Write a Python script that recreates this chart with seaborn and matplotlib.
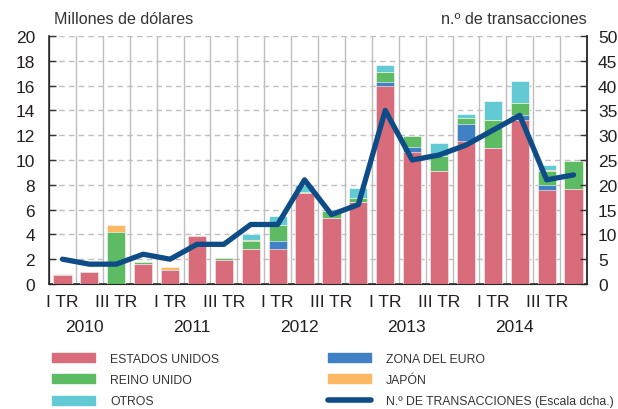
import numpy as np
import pandas as pd
import matplotlib
matplotlib.use("Agg")
import matplotlib.pyplot as plt
import matplotlib.transforms as mtransforms
from matplotlib.patches import Patch
from matplotlib.lines import Line2D
import seaborn as sns

# Datos trimestrales 2010-2014 (millones de dólares)
quarters = [f"{y}-T{q}" for y in range(2010, 2015) for q in range(1, 5)]
years = ["2010", "2011", "2012", "2013", "2014"]
quarter_labels = ["I TR", "", "III TR", ""] * 5

estados_unidos = [0.70, 1.00, 0.00, 1.60, 1.10, 3.85, 1.90, 2.85, 2.85, 7.35,
                  5.35, 6.60, 15.95, 10.65, 9.15, 11.55, 11.00, 13.25, 7.60, 7.70]
zona_euro = [0.00, 0.00, 0.00, 0.00, 0.00, 0.00, 0.00, 0.00, 0.60, 0.00,
             0.00, 0.00, 0.35, 0.40, 0.00, 1.35, 0.00, 0.40, 0.40, 0.00]
reino_unido = [0.05, 0.00, 4.20, 0.15, 0.00, 0.00, 0.20, 0.60, 1.30, 0.10,
               0.50, 0.30, 0.80, 0.85, 1.20, 0.50, 2.20, 0.95, 1.10, 2.25]
japon = [0.05, 0.00, 0.55, 0.00, 0.30, 0.00, 0.00, 0.10, 0.00, 0.00,
         0.00, 0.00, 0.00, 0.00, 0.00, 0.00, 0.00, 0.00, 0.10, 0.00]
otros = [0.00, 0.00, 0.00, 0.00, 0.00, 0.00, 0.00, 0.45, 0.75, 0.55,
         0.00, 0.85, 0.60, 0.00, 1.00, 0.30, 1.55, 1.75, 0.40, 0.00]
transacciones = [5, 4, 4, 6, 5, 8, 8, 12, 12, 21, 14, 16, 35, 25, 26, 28, 31, 34, 21, 22]

series = [
    ("ESTADOS UNIDOS", estados_unidos, "#D96C7A"),
    ("ZONA DEL EURO", zona_euro, "#4080C4"),
    ("REINO UNIDO", reino_unido, "#5DBB63"),
    ("JAPÓN", japon, "#FDB863"),
    ("OTROS", otros, "#63CAD3"),
]
line_color = "#0D4C86"

sns.set_style("white")
plt.rcParams["font.family"] = ["Liberation Sans", "DejaVu Sans"]
text_color = "#231F20"

df = pd.DataFrame({name: vals for name, vals, _ in series}, index=quarters)
cum = df.cumsum(axis=1)

fig = plt.figure(figsize=(6.18, 4.10), dpi=100)
ax = fig.add_axes([49 / 618, 1 - 285 / 410, 538 / 618, 248 / 410])

# barras apiladas: se dibuja primero el acumulado total y se superponen las capas inferiores
for name, _, color in reversed(series):
    sns.barplot(x=quarters, y=cum[name].values, color=color, width=0.68,
                saturation=1, edgecolor="white", linewidth=0.4, ax=ax, zorder=3)

ax.set_xlim(-0.5, 19.5)
ax.set_ylim(0, 20)
ax.set_yticks(np.arange(0, 21, 2))
ax.set_xticks(np.arange(-0.5, 20, 1))
ax.set_xticklabels([])
ax.set_xticks(np.arange(20), minor=True)
ax.set_xticklabels(quarter_labels, minor=True)
ax.tick_params(axis="x", which="minor", length=0, pad=7, labelsize=12.5, labelcolor=text_color)
ax.tick_params(axis="x", which="major", direction="in", length=4, width=1, color="#333333")
ax.tick_params(axis="y", direction="in", length=5, width=1, pad=10, labelsize=12.5,
               labelcolor=text_color, color="#333333")
ax.grid(axis="y", linestyle=(0, (4, 3)), color="#BFBFBF", linewidth=1, zorder=0)
ax.grid(axis="x", which="major", linestyle="-", color="#BDBDBD", linewidth=1, zorder=0)
ax.set_axisbelow(True)
ax.spines["top"].set_visible(False)
for side in ["left", "bottom", "right"]:
    ax.spines[side].set_color("#333333")
    ax.spines[side].set_linewidth(1.2)
ax.set_xlabel("")

trans = mtransforms.blended_transform_factory(ax.transData, ax.transAxes)
for i, year in enumerate(years):
    ax.text(i * 4 + 0.8, -0.172, year, transform=trans, ha="center", va="center",
            fontsize=12.5, color=text_color)

# eje derecho: número de transacciones
ax2 = ax.twinx()
sns.lineplot(x=np.arange(20), y=transacciones, color=line_color, linewidth=3.8,
             ax=ax2, zorder=5)
ax2.set_ylim(0, 50)
ax2.set_yticks(np.arange(0, 51, 5))
ax2.tick_params(axis="y", direction="in", length=5, width=1, pad=8, labelsize=12.5,
                labelcolor=text_color, color="#333333")
ax2.spines["top"].set_visible(False)
ax2.spines["right"].set_color("#333333")
ax2.spines["right"].set_linewidth(1.2)
ax2.set_ylabel("")
ax2.set_xlim(-0.5, 19.5)

fig.text(54 / 618, 1 - 19 / 410, "Millones de dólares", ha="left", va="center",
         fontsize=11.6, color="#333333")
fig.text(587 / 618, 1 - 19 / 410, "n.º de transacciones", ha="right", va="center",
         fontsize=11.6, color="#333333")

handles = [Patch(color=c) for _, _, c in series]
labels = [n for n, _, _ in series]
order = [0, 2, 4, 1, 3]
leg_handles = [handles[i] for i in order] + [Line2D([], [], color=line_color, linewidth=4)]
leg_labels = [labels[i] for i in order] + ["N.º DE TRANSACCIONES (Escala dcha.)"]
fig.legend(leg_handles, leg_labels, loc="upper left", bbox_to_anchor=(52 / 618, 1 - 354 / 410),
           ncol=2, frameon=False, handlelength=3.5, handleheight=0.75, handletextpad=1.25,
           columnspacing=8.9, labelspacing=0.75, borderpad=0, borderaxespad=0,
           prop={"family": ["Liberation Sans"], "size": 8.8}, labelcolor="#333333")

plt.savefig("out.png", dpi=100)
